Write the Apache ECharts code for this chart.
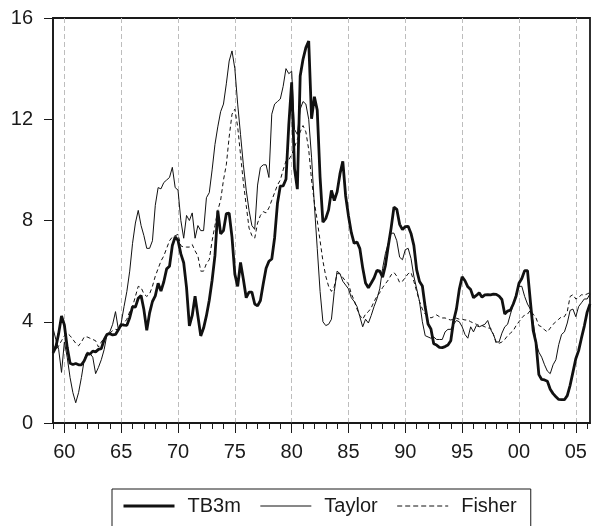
<!DOCTYPE html>
<html>
<head>
<meta charset="utf-8">
<script src="https://cdn.jsdelivr.net/npm/echarts@6/dist/echarts.min.js"></script>
<style>
html, body { margin: 0; padding: 0; background: #fff; }
#chart { width: 592px; height: 526px; }
</style>
</head>
<body>
<div id="chart"></div>
<script>
// quarterly data, 1959Q1 - 2006Q2
var startYear = 1959;

var tb3m = [
    2.77, 3.00, 3.54, 4.23,
    3.87, 2.99, 2.36, 2.31,
    2.35, 2.30, 2.30, 2.46,
    2.72, 2.72, 2.84, 2.81,
    2.91, 2.94, 3.29, 3.50,
    3.53, 3.48, 3.50, 3.68,
    3.89, 3.87, 3.86, 4.16,
    4.60, 4.58, 4.93, 5.04,
    4.47, 3.66, 4.35, 4.80,
    5.02, 5.52, 5.21, 5.58,
    6.09, 6.19, 7.01, 7.35,
    7.21, 6.68, 6.33, 5.35,
    3.84, 4.25, 5.01, 4.23,
    3.44, 3.75, 4.24, 4.85,
    5.64, 6.61, 8.39, 7.47,
    7.60, 8.27, 8.29, 7.34,
    5.88, 5.40, 6.34, 5.68,
    4.95, 5.17, 5.17, 4.70,
    4.63, 4.84, 5.50, 6.11,
    6.39, 6.48, 7.32, 8.68,
    9.36, 9.37, 9.63, 11.80,
    13.46, 10.05, 9.24, 13.71,
    14.37, 14.83, 15.09, 12.02,
    12.89, 12.36, 9.71, 7.93,
    8.08, 8.42, 9.19, 8.79,
    9.13, 9.84, 10.34, 8.97,
    8.18, 7.52, 7.10, 7.15,
    6.89, 6.13, 5.53, 5.34,
    5.53, 5.73, 6.03, 6.00,
    5.76, 6.23, 6.99, 7.70,
    8.53, 8.44, 7.85, 7.64,
    7.76, 7.77, 7.49, 7.02,
    6.05, 5.59, 5.41, 4.58,
    3.91, 3.72, 3.13, 3.08,
    2.99, 2.98, 3.02, 3.08,
    3.25, 4.04, 4.51, 5.28,
    5.78, 5.62, 5.38, 5.27,
    4.95, 5.04, 5.14, 4.97,
    5.06, 5.07, 5.06, 5.09,
    5.08, 5.01, 4.88, 4.31,
    4.42, 4.46, 4.70, 5.02,
    5.52, 5.71, 6.02, 6.02,
    4.82, 3.66, 3.17, 1.91,
    1.72, 1.70, 1.65, 1.33,
    1.16, 1.04, 0.93, 0.92,
    0.92, 1.08, 1.49, 2.01,
    2.54, 2.86, 3.36, 3.83,
    4.38, 4.70
];

var taylor = [
    3.75, 3.3, 2.9, 2.0,
    3.2, 2.6, 1.8, 1.2,
    0.8, 1.2, 1.8, 2.5,
    2.8, 2.75, 2.6, 1.95,
    2.2, 2.5, 2.9, 3.5,
    3.6, 3.9, 4.4, 3.7,
    3.95, 4.6, 5.2, 6.0,
    7.1, 7.9, 8.4, 7.8,
    7.4, 6.9, 6.9, 7.2,
    8.6, 9.3, 9.25, 9.5,
    9.6, 9.7, 10.1, 9.3,
    9.2, 8.0, 7.3, 8.2,
    8.0, 8.3, 7.3, 7.8,
    7.6, 7.6, 8.9, 9.1,
    10.0, 11.0, 11.7, 12.3,
    12.6, 13.4, 14.3, 14.7,
    14.0, 12.6, 11.4, 10.2,
    9.2, 8.4, 7.8, 7.65,
    9.4, 10.1, 10.2, 10.2,
    9.7, 12.2, 12.6, 12.7,
    12.8, 13.3, 14.0, 13.8,
    13.9, 11.6, 11.4, 12.4,
    12.7, 12.6, 12.0, 10.5,
    8.6, 6.9, 5.2, 4.0,
    3.85, 3.9, 4.1, 5.2,
    6.0, 5.9, 5.6, 5.45,
    5.3, 4.95, 4.8, 4.6,
    4.2, 3.8, 4.1, 3.95,
    4.25, 4.6, 4.9, 5.3,
    6.1, 6.7, 7.1, 7.5,
    7.5, 7.2, 6.55, 6.45,
    6.85, 6.9, 6.5, 5.8,
    5.3, 4.8, 4.0, 3.45,
    3.4, 3.35, 3.4, 3.3,
    3.3, 3.3, 3.6, 3.7,
    3.7, 3.9, 4.05, 4.0,
    3.8, 3.5, 3.35, 3.8,
    3.6, 3.85, 3.8, 3.85,
    3.9, 4.05, 3.7, 3.5,
    3.2, 3.2, 3.55, 3.8,
    3.9, 4.3, 4.7, 5.1,
    5.4, 5.4, 5.0, 4.7,
    4.5, 4.0, 3.2, 2.8,
    2.6, 2.3, 2.05, 1.95,
    2.3, 2.5, 3.1, 3.5,
    3.6, 3.95, 4.45, 4.5,
    4.2, 4.6, 4.75, 4.9,
    4.9, 5.1
];

var fisher = [
    3.1, 2.9, 3.05, 3.25,
    3.45, 3.55, 3.45, 3.3,
    3.15, 3.05, 3.2, 3.4,
    3.4, 3.35, 3.3, 3.25,
    3.0, 3.2, 3.35, 3.5,
    3.55, 3.65, 3.7, 3.68,
    3.8, 3.95, 4.1, 4.4,
    4.6, 5.0, 5.4, 5.35,
    5.1, 5.0, 5.1, 5.4,
    5.8, 6.1, 6.4, 6.6,
    6.9, 7.2, 7.35, 7.4,
    7.45, 7.0, 6.95, 6.95,
    6.95, 7.05, 6.8, 6.6,
    6.0, 6.0, 6.3, 6.45,
    7.2, 7.8, 8.4, 8.8,
    9.6, 10.2, 11.3, 12.2,
    12.4, 11.7, 10.6, 9.5,
    8.6, 7.7, 7.4, 7.3,
    7.9, 8.2, 8.35, 8.3,
    8.5, 8.8, 9.1, 9.4,
    9.6, 10.0, 10.35, 10.4,
    10.6, 10.9, 11.2, 11.5,
    11.75, 11.5, 10.8, 9.6,
    8.7, 8.0, 7.2, 6.4,
    5.8, 5.4, 5.2, 5.4,
    5.9, 5.9, 5.75, 5.6,
    5.5, 5.1, 4.85, 4.5,
    4.25, 4.1, 4.3, 4.4,
    4.55, 4.8, 5.0, 5.15,
    5.35, 5.5, 5.65, 5.85,
    5.95, 5.8, 5.55, 5.6,
    5.75, 5.9, 5.95, 5.6,
    5.2, 4.8, 4.5, 4.3,
    4.25, 4.15, 4.2, 4.27,
    4.2, 4.15, 4.15, 4.1,
    4.07, 4.1, 4.14, 4.1,
    4.1, 4.07, 4.07, 4.0,
    3.95, 3.9, 3.85, 3.85,
    3.8, 3.75, 3.75, 3.5,
    3.15, 3.15, 3.2, 3.3,
    3.45, 3.55, 3.65, 3.85,
    4.0, 4.15, 4.27, 4.3,
    4.45, 4.3, 4.15, 3.85,
    3.8, 3.68, 3.6, 3.75,
    3.9, 4.0, 4.1, 4.2,
    4.2, 4.4, 5.0, 5.07,
    4.9, 4.95, 5.07, 5.05,
    5.1, 5.15
];

var labelYears = [1960, 1965, 1970, 1975, 1980, 1985, 1990, 1995, 2000, 2005];
var labelTexts = ['60', '65', '70', '75', '80', '85', '90', '95', '00', '05'];
var seriesNames = ['TB3m', 'Taylor', 'Fisher'];

var quarters = [];
for (var i = 0; i < tb3m.length; i++) {
    quarters.push((startYear + Math.floor(i / 4)) + 'Q' + (i % 4 + 1));
}

function yearOf(idx) { return startYear + Math.floor(idx / 4); }
function isYearStart(idx) { return idx % 4 === 0; }
function isLabelYear(idx) {
    return isYearStart(idx) && labelYears.indexOf(yearOf(idx)) >= 0;
}

var font = 'Liberation Sans, Arial, sans-serif';
var ink = '#1a1a1a';

var option = {
    animation: false,
    backgroundColor: '#fff',
    grid: {
        left: 53, right: 2, top: 18, height: 405,
        show: true,
        borderColor: ink,
        borderWidth: 1.8
    },
    legend: {
        left: 112,
        top: 489,
        orient: 'horizontal',
        padding: [7, 14, 40, 10],
        borderColor: ink,
        borderWidth: 1,
        itemWidth: 51,
        itemHeight: 14,
        itemGap: 19,
        itemStyle: {opacity: 0},
        textStyle: {fontFamily: font, fontSize: 20, color: ink, padding: [0, 0, 0, 8]},
        data: [
            {name: seriesNames[0], itemStyle: {opacity: 0}, lineStyle: {width: 3, color: '#111'}},
            {name: seriesNames[1], itemStyle: {opacity: 0}, lineStyle: {width: 1, color: '#111'}},
            {name: seriesNames[2], itemStyle: {opacity: 0}, lineStyle: {width: 1, color: '#111', type: [5, 3]}}
        ]
    },
    xAxis: [
        {
            type: 'category',
            data: quarters,
            boundaryGap: false,
            axisLine: {lineStyle: {color: ink, width: 1.5}},
            axisTick: {interval: function (idx) { return isYearStart(idx); }, length: 6, lineStyle: {color: ink, width: 1}},
            axisLabel: {show: false},
            splitLine: {
                show: true,
                interval: function (idx) { return isLabelYear(idx); },
                lineStyle: {color: '#bdbdbd', type: [5, 3], width: 1}
            }
        },
        {
            type: 'category',
            data: quarters,
            boundaryGap: false,
            position: 'bottom',
            axisLine: {show: false},
            axisTick: {interval: function (idx) { return isLabelYear(idx); }, length: 10, lineStyle: {color: ink, width: 1}},
            axisLabel: {
                interval: function (idx) { return isLabelYear(idx); },
                formatter: function (val, idx) {
                    var k = labelYears.indexOf(yearOf(idx));
                    return k >= 0 ? labelTexts[k] : '';
                },
                margin: 19,
                fontFamily: font,
                fontSize: 20,
                color: ink
            },
            splitLine: {show: false}
        }
    ],
    yAxis: {
        type: 'value',
        min: 0,
        max: 16,
        interval: 4,
        axisLine: {show: true, lineStyle: {color: ink, width: 1.5}},
        axisTick: {show: true, length: 9, lineStyle: {color: ink, width: 1}},
        axisLabel: {margin: 20, fontFamily: font, fontSize: 20, color: ink},
        splitLine: {show: false}
    },
    series: [
        {
            name: seriesNames[0],
            type: 'line',
            data: tb3m,
            symbol: 'none',
            z: 4,
            lineStyle: {color: '#111', width: 2.8}
        },
        {
            name: seriesNames[1],
            type: 'line',
            data: taylor,
            symbol: 'none',
            z: 3,
            lineStyle: {color: '#111', width: 1}
        },
        {
            name: seriesNames[2],
            type: 'line',
            data: fisher,
            symbol: 'none',
            z: 3,
            lineStyle: {color: '#111', width: 1, type: [4, 3]}
        }
    ]
};

var mychart = echarts.init(document.getElementById('chart'));
mychart.setOption(option);
</script>
</body>
</html>
